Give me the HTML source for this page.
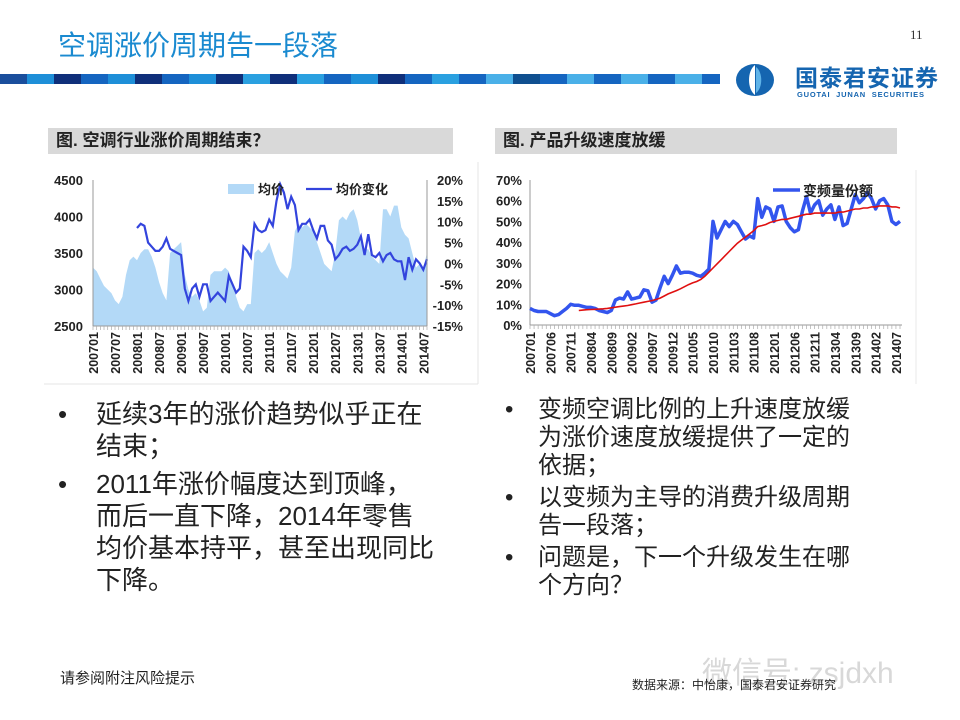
<!DOCTYPE html>
<html><head><meta charset="utf-8">
<style>
body{margin:0;width:960px;height:720px;background:#fff;position:relative;overflow:hidden;font-family:"Liberation Sans","Noto Sans CJK SC",sans-serif}
.abs{position:absolute}
.hdr{background:#d9d9d9;font-weight:bold;font-size:17px;color:#222;line-height:25px;padding-left:8px;box-sizing:border-box}
.bl{font-size:26px;color:#222;line-height:32px;white-space:nowrap}
.br{font-size:24px;color:#222;line-height:28px;white-space:nowrap}
</style></head><body>
<div class="abs" style="left:58px;top:24px;font-size:28px;color:#1a8ad0;letter-spacing:0px">空调涨价周期告一段落</div>
<div class="abs" style="left:910px;top:27px;font-size:13px;color:#333;font-family:'Liberation Serif',serif">11</div>
<svg class="abs" style="left:0;top:72px" width="720" height="14" id="stripe"></svg>
<svg class="abs" style="left:735px;top:63px" width="40" height="34">
<ellipse cx="20" cy="17" rx="19" ry="16" fill="#1565b0"/><path d="M20 2 C12 8 12 26 20 32 Z" fill="#fff"/><path d="M21 4 C28 9 28 25 21 30 Z" fill="#5fb3e8"/></svg>
<div class="abs" style="left:795px;top:59px;font-size:23px;font-weight:bold;color:#1565b0;letter-spacing:1px">国泰君安证券</div>
<div class="abs" style="left:797px;top:90px;font-size:7.5px;color:#1565b0;font-weight:bold;letter-spacing:0.8px">GUOTAI&nbsp;&nbsp;JUNAN&nbsp;&nbsp;SECURITIES</div>

<div class="abs hdr" style="left:48px;top:128px;width:405px;height:26px">图. 空调行业涨价周期结束？</div>
<div class="abs hdr" style="left:495px;top:128px;width:402px;height:26px">图. 产品升级速度放缓</div>

<svg class="abs" style="left:0;top:0" width="960" height="400" id="charts"></svg>

<div class="abs" style="left:58px;top:398px;width:420px">
<div class="bl" style="display:flex"><span style="width:38px">•</span><span>延续3年的涨价趋势似乎正在<br>结束；</span></div>
<div class="bl" style="display:flex;margin-top:6px"><span style="width:38px">•</span><span>2011年涨价幅度达到顶峰，<br>而后一直下降，2014年零售<br>均价基本持平，甚至出现同比<br>下降。</span></div>
</div>
<div class="abs" style="left:505px;top:396px;width:380px">
<div class="br" style="display:flex"><span style="width:33px">•</span><span>变频空调比例的上升速度放缓<br>为涨价速度放缓提供了一定的<br>依据；</span></div>
<div class="br" style="display:flex;margin-top:4px"><span style="width:33px">•</span><span>以变频为主导的消费升级周期<br>告一段落；</span></div>
<div class="br" style="display:flex;margin-top:4px"><span style="width:33px">•</span><span>问题是，下一个升级发生在哪<br>个方向？</span></div>
</div>
<div class="abs" style="left:60px;top:667px;font-size:15px;color:#222">请参阅附注风险提示</div>
<div class="abs" style="left:702px;top:648px;font-size:30px;color:#d8d8d8">微信号: zsjdxh</div>
<div class="abs" style="left:632px;top:676px;font-size:12px;color:#222">数据来源：中怡康，国泰君安证券研究</div>

<script>
// ---- Left chart data ----
const priceValues = [3300,3250,3150,3050,3000,2950,2850,2800,2900,3200,3400,3450,
3400,3500,3550,3550,3450,3300,3100,2950,2850,3500,3550,3600,
3650,3200,3000,2900,2950,2850,2700,2750,3200,3250,3250,3250,
3300,3250,3100,2900,2750,2700,2800,2800,3500,3550,3500,3550,
3650,3500,3350,3250,3200,3150,3300,3800,3900,3850,3900,3850,
3800,3650,3500,3350,3300,3250,3500,3950,4000,3950,4050,4100,
3950,3700,3550,3550,3450,3400,3350,4100,4100,4000,4150,4150,
3850,3750,3700,3500,3300,3350,3300,3500];
const changeStart = 12;
const changeValues = [8.5,9.5,9,5,4,3,3,4,6,3.5,3,2.5,
2,-6,-9,-6,-5,-8,-5,-5,-9,-8,-7,-8,
-9,-3,-5,-7,-6,4,3,1.5,9.5,8,7.5,8,
10.5,9,15,19,17,13,16,14,8,9.5,9.5,10.5,
8,6,9,9,5.5,4.5,1,2,3.5,4,3,3.5,
4.5,6.5,2,7,2,1.5,2.5,0.5,2,2.5,1,0.5,
0.5,-4,1.5,-1.5,1,0,-1.5,1];
const leftTicksL = [2500,3000,3500,4000,4500];
const leftTicksR = [-15,-10,-5,0,5,10,15,20];
const leftXLabels = ['200701','200707','200801','200807','200901','200907','201001','201007','201101','201107','201201','201207','201301','201307','201401','201407'];
// ---- Right chart data ----
const shareValues = [8,7,6.5,6.5,6.5,5.5,4.5,5,6.5,8,10,9.5,
9.5,9,8.5,8.5,8,7,6.5,6,7,12,13,12.5,
16,12.5,13,13.5,17,16.5,11,12,18,23.5,20,24,
28.5,25,25.5,25.5,25,24,23.5,25,27,50,42,46,
50,47.5,50,48.5,45,41.5,43,42,61,52,57,56,
50,57,57.5,50,47,45,46,55,62,54,58,60,
53,56,58,51,57,48,49,56,63,59,61,64,
61,56,60,61,58,50,48.5,50];
const maStart = 12;
const maValues = [7,7.2,7.4,7.5,7.6,7.7,7.8,8,8.3,8.6,8.9,9.1,
9.4,9.8,10.2,10.6,11,11.4,11.8,12.3,13,14,15,15.8,
16.6,17.5,18.5,19.5,20.3,21,22,23.5,25.5,27.5,29.5,31.5,
33.5,35.5,37.5,39.5,41,42.5,44,45.5,47.5,48,48.5,49.5,
50,50.5,51,51,51.5,52,52.5,53,53.5,53.5,54,54,
54,54,54,54,54.5,54.5,55,55.5,56,56,56.5,56.5,
57,57,57.5,57.5,57.5,57,57,56.5];
const rightTicks = [0,10,20,30,40,50,60,70];
const rightXLabels = ['200701','200706','200711','200804','200809','200902','200907','200912','201005','201010','201103','201108','201201','201206','201211','201304','201309','201402','201407'];

const NS='http://www.w3.org/2000/svg';
const svg=document.getElementById('charts');
function mk(tag,attrs,parent){const e=document.createElementNS(NS,tag);for(const k in attrs)e.setAttribute(k,attrs[k]);(parent||svg).appendChild(e);return e;}

(function(){const s=document.getElementById('stripe');const cols=['#1a4e9c','#1e8fd8','#0f2f7a','#1565c0','#1e8fd8','#0f2f7a','#1565c0','#1e8fd8','#0f2f7a','#2aa0e0','#0f2f7a','#2aa0e0','#1565c0','#1e8fd8','#0f2f7a','#1565c0','#2aa0e0','#1565c0','#4ab0e8','#0f4f8f','#1565c0','#4ab0e8','#1565c0','#4ab0e8','#1565c0','#4ab0e8','#1565c0'];
for(let i=0;i<cols.length;i++){const r=document.createElementNS(NS,'rect');r.setAttribute('x',i*27);r.setAttribute('y',2);r.setAttribute('width',28);r.setAttribute('height',10);r.setAttribute('fill',cols[i]);s.appendChild(r);}})();

const L={x0:93,x1:427,y0:326,y1:180};
const lx=i=>L.x0+(L.x1-L.x0)*i/(priceValues.length-1);
const lyL=v=>L.y0-(v-2500)/(4500-2500)*(L.y0-L.y1);
const lyR=v=>L.y0-(v+15)/35*(L.y0-L.y1);
let d='M'+lx(0)+','+L.y0;
priceValues.forEach((v,i)=>{d+=' L'+lx(i).toFixed(1)+','+lyL(v).toFixed(1);});
d+=' L'+lx(priceValues.length-1)+','+L.y0+' Z';
let a=mk('path',{d:d,fill:'#b3d9f7'});


let pd='';
changeValues.forEach((v,i)=>{pd+=(i?' L':'M')+lx(i+changeStart).toFixed(1)+','+lyR(v).toFixed(1);});
let cl=mk('path',{d:pd,fill:'none',stroke:'#3344dd','stroke-width':2.2});


mk('line',{x1:L.x0,y1:L.y1,x2:L.x0,y2:L.y0,stroke:'#999'});
mk('line',{x1:L.x1,y1:L.y1,x2:L.x1,y2:L.y0,stroke:'#999'});
mk('line',{x1:L.x0,y1:L.y0,x2:L.x1,y2:L.y0,stroke:'#999'});
for(let i=0;i<priceValues.length;i++)mk('line',{x1:lx(i),y1:L.y0,x2:lx(i),y2:L.y0+4,stroke:'#aaa','stroke-width':0.7});
leftTicksL.forEach(v=>{const t=mk('text',{x:L.x0-10,y:lyL(v)+5,'text-anchor':'end','font-size':13,'font-weight':'bold',fill:'#222'});t.textContent=v;

});
leftTicksR.forEach(v=>{const t=mk('text',{x:L.x1+36,y:lyR(v)+5,'text-anchor':'end','font-size':13,'font-weight':'bold',fill:'#222'});t.textContent=v+'%';

});
leftXLabels.forEach((s,i)=>{const x=lx(i*6)+5;const t=mk('text',{x:0,y:0,transform:'translate('+x+',332) rotate(-90)','text-anchor':'end','font-size':12.5,'font-weight':'bold',fill:'#222'});t.textContent=s;

});
mk('rect',{x:228,y:184,width:26,height:10,fill:'#b3d9f7'});
let tt=mk('text',{x:258,y:194,'font-size':13,'font-weight':'bold',fill:'#222'});tt.textContent='均价';


mk('line',{x1:306,y1:189,x2:332,y2:189,stroke:'#3344dd','stroke-width':2.2});
tt=mk('text',{x:336,y:194,'font-size':13,'font-weight':'bold',fill:'#222'});tt.textContent='均价变化';


mk('line',{x1:478,y1:162,x2:478,y2:384,stroke:'#e4e4e4'});
mk('line',{x1:44,y1:384,x2:478,y2:384,stroke:'#e4e4e4'});

const R={x0:530,x1:900,y0:325,y1:180};
const rx=i=>R.x0+(R.x1-R.x0)*i/(shareValues.length-1);
const ry=v=>R.y0-v/70*(R.y0-R.y1);
mk('line',{x1:R.x0,y1:R.y1,x2:R.x0,y2:R.y0,stroke:'#999'});
mk('line',{x1:R.x0,y1:R.y0,x2:R.x1+2,y2:R.y0,stroke:'#999'});
for(let i=0;i<shareValues.length;i++)mk('line',{x1:rx(i),y1:R.y0,x2:rx(i),y2:R.y0+4,stroke:'#aaa','stroke-width':0.7});
let sd='';shareValues.forEach((v,i)=>{sd+=(i?' L':'M')+rx(i).toFixed(1)+','+ry(v).toFixed(1);});
let sl=mk('path',{d:sd,fill:'none',stroke:'#3355ee','stroke-width':3.5,'stroke-linejoin':'round'});


let md='';maValues.forEach((v,i)=>{md+=(i?' L':'M')+rx(i+maStart).toFixed(1)+','+ry(v).toFixed(1);});
let ml=mk('path',{d:md,fill:'none',stroke:'#e01010','stroke-width':1.6});


rightTicks.forEach(v=>{const t=mk('text',{x:R.x0-8,y:ry(v)+5,'text-anchor':'end','font-size':13,'font-weight':'bold',fill:'#222'});t.textContent=v+'%';

});
rightXLabels.forEach((s,i)=>{const x=rx(i*5)+5;const t=mk('text',{x:0,y:0,transform:'translate('+x+',332) rotate(-90)','text-anchor':'end','font-size':12.5,'font-weight':'bold',fill:'#222'});t.textContent=s;

});
mk('line',{x1:773,y1:190,x2:800,y2:190,stroke:'#3355ee','stroke-width':3.5});
tt=mk('text',{x:803,y:196,'font-size':14,'font-weight':'bold',fill:'#222'});tt.textContent='变频量份额';


mk('line',{x1:916,y1:170,x2:916,y2:384,stroke:'#e8e8e8'});
</script>
</body></html>
